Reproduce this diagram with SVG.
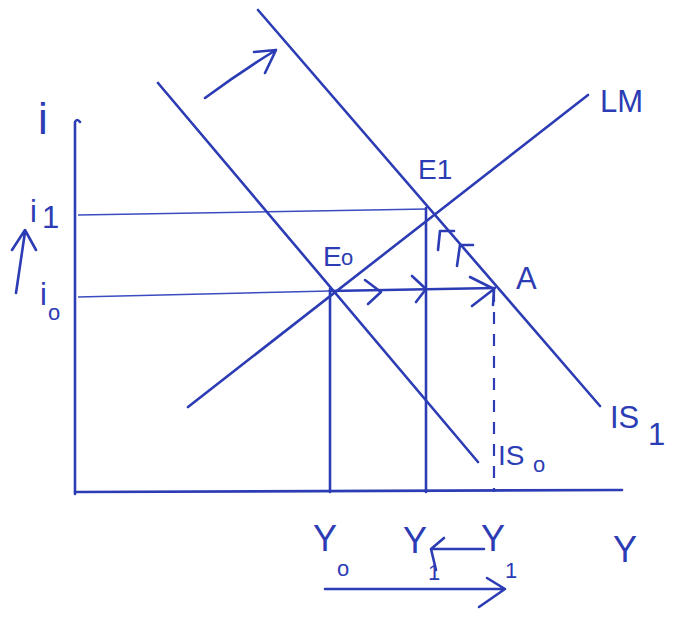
<svg xmlns="http://www.w3.org/2000/svg" width="683" height="618" viewBox="0 0 683 618">
<style>
.ln{stroke:#2c3cb4;stroke-width:2.6;fill:none;stroke-linecap:round;stroke-linejoin:round}
.th{stroke:#3a4cc0;stroke-width:1.4;fill:none}
.ds{stroke:#2c3cb4;stroke-width:2.2;fill:none;stroke-dasharray:12 10}
.t{font-family:"Liberation Sans",Arial,sans-serif;fill:#2c3cb4;font-size:28px}
.s{font-family:"Liberation Sans",Arial,sans-serif;fill:#2c3cb4;font-size:22px}
.big{font-size:36px}
.m{font-size:31px}
</style>
<rect width="683" height="618" fill="#ffffff"/>
<g id="axes">
<path class="ln" d="M75,494 L75,122 Q77,118 80,122"/>
<path class="ln" d="M75,492 L622,490"/>
</g>
<g id="connectors">
<line class="th" x1="78" y1="215" x2="427" y2="209"/>
<line class="th" x1="78" y1="297" x2="330" y2="291"/>
<line class="ln" x1="330" y1="291" x2="495" y2="288"/>
<line class="ln" x1="330" y1="289" x2="330" y2="492"/>
<line class="ln" x1="426" y1="208" x2="426" y2="492"/>
<line class="ds" x1="494" y1="290" x2="494" y2="492"/>
<path class="ln" d="M365,280 L381,292 L368,304"/>
<path class="ln" d="M412,276 L426,289 L416,302"/>
<path class="ln" d="M470,277 L494,289 M472,306 L494,289 L493,305"/>
<path class="ln" d="M438,250 L440,231 L454,231"/>
<path class="ln" d="M457,266 L460,245 L473,245"/>
<path class="ln" d="M205,98 Q240,72 276,50 M254,52 L276,50 L265,73"/>
<path class="ln" d="M16,293 L25,232 M12,250 L25,230 L36,250"/>
<path class="ln" d="M484,549 L431,549 M444,538 L431,549 L436,570"/>
<path class="ln" d="M325,589 L505,589 M487,578 L505,589 L479,607"/>
</g>
<g id="LM"><line class="ln" x1="188" y1="407" x2="588" y2="95"/><text class="t m" x="600" y="112">LM</text></g>
<g id="IS0"><line class="ln" x1="158" y1="83" x2="478" y2="462"/><text class="t" x="498" y="465">IS</text><text class="s" x="533" y="472">o</text></g>
<g id="IS1"><line class="ln" x1="258" y1="10" x2="600" y2="406"/><text class="t m" x="610" y="428">IS</text><text class="t m" x="648" y="445">1</text></g>
<g id="E0"><text class="t" x="323" y="266">E</text><text class="s" x="341" y="265">o</text></g>
<g id="E1"><text class="t" x="418" y="179">E1</text></g>
<g id="A"><text class="t m" x="516" y="289">A</text></g>
<g id="labels">
<text class="t" x="38" y="134" style="font-size:44px">i</text>
<text class="t m" x="30" y="222">i</text><text class="t m" x="42" y="228">1</text>
<text class="t m" x="40" y="305">i</text><text class="s" x="48" y="320">o</text>
<text class="t big" x="313" y="551">Y</text><text class="s" x="337" y="576">o</text>
<text class="t big" x="403" y="553">Y</text><text class="s" x="428" y="580">1</text>
<text class="t big" x="481" y="551">Y</text><text class="s" x="505" y="578">1</text>
<text class="t big" x="613" y="562">Y</text>
</g>
</svg>
